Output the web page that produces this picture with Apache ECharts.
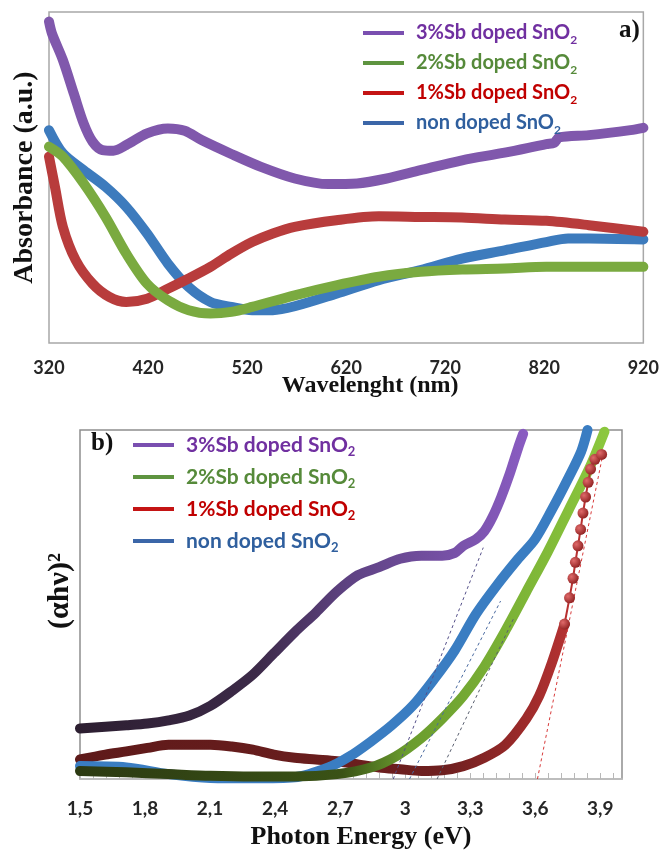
<!DOCTYPE html>
<html><head><meta charset="utf-8">
<script src="https://cdn.jsdelivr.net/npm/echarts@6/dist/echarts.min.js"></script>
<style>html,body{margin:0;padding:0;background:#fff}#c{width:662px;height:851px}</style>
</head><body><div id="c"></div>
<script>
// ---------- names / ticks ----------
const seriesNames = ['3%Sb doped SnO2', '2%Sb doped SnO2', '1%Sb doped SnO2', 'non doped SnO2'];
const xTicksA = [320, 420, 520, 620, 720, 820, 920];
const xTicksB = [1.5, 1.8, 2.1, 2.4, 2.7, 3.0, 3.3, 3.6, 3.9];
const xTickLabelsB = ['1,5', '1,8', '2,1', '2,4', '2,7', '3', '3,3', '3,6', '3,9'];

// ---------- panel a : absorbance vs wavelength (nm) ----------
const a3_nm  = [320, 323, 334, 345, 355, 364, 374, 385, 398, 419, 440, 457, 474, 504, 534, 568, 602, 631, 661, 695, 737, 780, 822, 830, 835, 865, 907, 920];
const a3_abs = [97.1, 93.5, 85.5, 75.4, 66.3, 60.8, 58.3, 58.1, 59.8, 63.3, 64.8, 64.1, 61.3, 57.1, 53.2, 49.7, 48.0, 48.2, 49.7, 52.2, 55.2, 57.5, 60.1, 60.5, 62.1, 62.8, 64.3, 65.0];
const a2_nm  = [320, 334, 355, 377, 398, 419, 440, 461, 483, 504, 525, 568, 610, 653, 695, 737, 780, 822, 920];
const a2_abs = [59.3, 56.3, 48.2, 38.1, 27.0, 17.9, 12.9, 9.9, 8.9, 9.4, 10.9, 14.4, 17.4, 20.0, 21.5, 22.2, 22.5, 23.0, 23.0];
const a1_nm  = [320, 326, 334, 347, 364, 381, 398, 419, 440, 461, 483, 504, 525, 546, 568, 610, 653, 695, 737, 780, 822, 865, 920];
const a1_abs = [56.3, 47.2, 35.1, 25.0, 17.9, 13.9, 12.4, 13.4, 16.4, 19.5, 23.0, 27.0, 30.5, 33.1, 35.1, 37.1, 38.3, 38.1, 37.9, 37.3, 36.9, 35.6, 33.6];
const a0_nm  = [320, 334, 355, 377, 398, 419, 440, 461, 483, 504, 525, 546, 568, 610, 653, 695, 737, 780, 822, 844, 865, 920];
const a0_abs = [64.3, 57.3, 52.2, 47.2, 41.1, 33.1, 24.0, 16.9, 12.4, 10.9, 9.9, 9.9, 11.1, 14.9, 19.0, 22.0, 25.5, 28.0, 30.5, 31.6, 31.6, 31.3];

// ---------- panel b : (alpha h nu)^2 vs photon energy (eV) ----------
const b3_eV  = [1.5, 1.617, 1.714, 1.811, 1.908, 2.005, 2.102, 2.2, 2.297, 2.394, 2.491, 2.588, 2.685, 2.782, 2.88, 2.977, 3.074, 3.171, 3.229, 3.268, 3.326, 3.365, 3.404, 3.443, 3.482, 3.521, 3.544];
const b3_val = [14.5, 15.0, 15.4, 15.9, 16.8, 18.2, 21.0, 25.2, 29.9, 36.0, 42.1, 47.7, 53.7, 58.4, 60.7, 63.1, 64.0, 64.0, 64.8, 66.8, 68.7, 71.0, 75.2, 80.8, 87.4, 94.9, 98.9];
const b2_eV  = [1.5, 1.714, 1.908, 2.102, 2.297, 2.491, 2.685, 2.841, 2.957, 3.074, 3.171, 3.268, 3.365, 3.462, 3.559, 3.657, 3.754, 3.851, 3.919];
const b2_val = [2.3, 1.9, 1.4, 0.9, 0.7, 0.7, 1.4, 3.3, 6.5, 11.7, 17.3, 23.8, 32.2, 42.5, 53.7, 65.0, 77.1, 89.3, 99.5];
const b1_eV  = [1.5, 1.617, 1.714, 1.811, 1.908, 2.005, 2.102, 2.2, 2.297, 2.394, 2.491, 2.588, 2.685, 2.782, 2.88, 2.977, 3.074, 3.171, 3.268, 3.365, 3.462, 3.559, 3.618, 3.676, 3.735];
const b1_val = [5.6, 7.0, 7.9, 8.9, 9.8, 9.8, 9.8, 9.3, 8.4, 7.0, 6.1, 5.6, 5.1, 4.2, 3.3, 2.8, 2.3, 2.5, 3.7, 6.1, 9.8, 17.3, 23.8, 33.2, 44.4];
const b1top_eV  = [3.735, 3.758, 3.774, 3.785, 3.797, 3.809, 3.820, 3.832, 3.844, 3.855, 3.875, 3.906];
const b1top_val = [44.4, 51.9, 57.5, 62.1, 66.8, 71.5, 76.2, 80.8, 85.0, 88.8, 91.6, 93.0];
const b0_eV  = [1.5, 1.714, 1.908, 2.102, 2.297, 2.491, 2.646, 2.744, 2.841, 2.938, 3.035, 3.132, 3.229, 3.326, 3.424, 3.521, 3.599, 3.676, 3.754, 3.812, 3.841];
const b0_val = [3.7, 3.3, 1.4, 0.3, 0.2, 0.5, 3.3, 6.5, 10.7, 15.4, 21.0, 28.5, 36.9, 47.2, 55.6, 63.1, 68.7, 77.1, 86.4, 93.9, 100];
// tangent (extrapolation) lines
const tan3_eV = [2.945, 3.36], tan3_val = [0, 66.3];
const tanQ_eV = [3.02, 3.44],  tanQ_val = [0, 51];
const tan0_eV = [3.147, 3.50], tan0_val = [0, 46];
const tan1_eV = [3.61, 3.91],  tan1_val = [0, 92.5];

const zip = (xs, ys) => xs.map((x, i) => [x, ys[i]]);

const legendTextColor = ['#7030a0', '#568a3a', '#c00000', '#2f5f9e'];
const legendLineColor = ['#7a4fb0', '#5e9440', '#c41414', '#3b66a8'];
const grad = (stops) => ({type: 'linear', x: 0, y: 0, x2: 1, y2: 0, colorStops: stops.map(s => ({offset: s[0], color: s[1]}))});

function legendCfg(left, top, size, gap) {
  return {
    orient: 'vertical', left: left, top: top, padding: 0, itemGap: gap,
    icon: 'rect', itemWidth: 41, itemHeight: 4,
    selectedMode: false,
    formatter: n => n.replace('SnO2', 'SnO{s|2}'),
    textStyle: {
      fontFamily: 'Lato', fontWeight: 'bold', fontSize: size, lineHeight: 26, padding: [0, 0, 0, 7],
      rich: {s: {fontFamily: 'Lato', fontWeight: 'bold', fontSize: Math.round(size * 0.62), lineHeight: 14, verticalAlign: 'bottom'}}
    },
    data: seriesNames.map((n, i) => ({name: n, textStyle: {color: legendTextColor[i]}, itemStyle: {color: legendLineColor[i]}}))
  };
}

const thick = (name, data, color, xi, w, z) => ({
  name: name, type: 'line', xAxisIndex: xi, yAxisIndex: xi, data: data,
  showSymbol: false, symbol: 'none', smooth: 0.3, clip: false, z: z || 2,
  lineStyle: {width: w || 10, color: color, cap: 'round', join: 'round'},
  itemStyle: {color: typeof color === 'string' ? color : color.colorStops[color.colorStops.length - 1].color},
  emphasis: {disabled: true}, animation: false
});
const dashed = (data, color) => ({
  type: 'line', xAxisIndex: 1, yAxisIndex: 1, data: data, showSymbol: false, symbol: 'none',
  silent: true, clip: false, z: 3, animation: false,
  lineStyle: {width: 1, color: color, type: [3, 3]}
});

const serifTitle = {fontFamily: 'Liberation Serif', fontWeight: 'bold', color: '#111'};

const option = {
  backgroundColor: '#ffffff',
  animation: false,
  title: [
    {text: 'a)', left: 619, top: 18, padding: 0, textStyle: Object.assign({fontSize: 25}, serifTitle)},
    {text: 'b)', left: 91, top: 431, padding: 0, textStyle: Object.assign({fontSize: 25}, serifTitle)}
  ],
  graphic: [
    {type: 'text', x: 60, y: 591, rotation: Math.PI / 2, silent: true,
     style: {text: '(αhν)²', font: 'bold 30px "Liberation Serif"', fill: '#111', align: 'center', verticalAlign: 'middle'}}
  ],
  legend: [legendCfg(363, 20, 20, 4), legendCfg(133, 432, 21, 6)],
  grid: [
    {left: 49, width: 598, top: 12, height: 331, show: true, borderColor: '#a8a8a8', borderWidth: 1.5, backgroundColor: '#fff'},
    {left: 80, width: 542, top: 430, height: 354, show: true, borderColor: '#8e8e8e', borderWidth: 1.5, backgroundColor: '#fff'}
  ],
  xAxis: [
    {type: 'value', gridIndex: 0, min: 320, max: 920,
     axisLine: {show: false}, axisTick: {show: false}, splitLine: {show: false},
     axisLabel: {customValues: xTicksA, margin: 16, fontFamily: 'Lato', fontWeight: 'bold', fontSize: 18, color: '#262626'},
     name: 'Wavelenght (nm)', nameLocation: 'middle', nameGap: 31, nameMoveOverlap: false,
     nameTextStyle: Object.assign({fontSize: 24, padding: [0, 0, 0, 48]}, serifTitle)},
    {type: 'value', gridIndex: 1, min: 1.5, max: 4.0,
     axisLine: {show: true, lineStyle: {color: '#c4c4c4', width: 1.5}},
     axisTick: {show: true, inside: true, length: 6, customValues: (function(){const t=[]; for (let k=0;k<=41;k++) t.push(+(xTicksB[0]+k*0.06).toFixed(2)); return t;})(), lineStyle: {color: '#b8b8b8'}},
     splitLine: {show: false},
     axisLabel: {customValues: xTicksB, margin: 20, fontFamily: 'Lato', fontWeight: 'bold', fontSize: 19, color: '#262626',
       formatter: v => { const i = xTicksB.findIndex(t => Math.abs(t - v) < 1e-6); return i >= 0 ? xTickLabelsB[i] : ''; }},
     name: 'Photon Energy (eV)', nameLocation: 'middle', nameGap: 45, nameMoveOverlap: false,
     nameTextStyle: Object.assign({fontSize: 26, padding: [0, 0, 0, 20]}, serifTitle)}
  ],
  yAxis: [
    {type: 'value', gridIndex: 0, min: 0, max: 100, axisLine: {show: false}, axisTick: {show: false}, axisLabel: {show: false}, splitLine: {show: false},
     name: 'Absorbance (a.u.)', nameLocation: 'middle', nameGap: 10, nameRotate: 90, nameMoveOverlap: false,
     nameTextStyle: Object.assign({fontSize: 28}, serifTitle)},
    {type: 'value', gridIndex: 1, min: 0, max: 100, axisLine: {show: false}, axisTick: {show: false}, axisLabel: {show: false}, splitLine: {show: false}}
  ],
  series: [
    // panel a
    thick(seriesNames[3], zip(a0_nm, a0_abs), '#3d7bbd', 0),
    thick(seriesNames[2], zip(a1_nm, a1_abs), '#b83c3c', 0),
    thick(seriesNames[1], zip(a2_nm, a2_abs), '#7aaa40', 0),
    thick(seriesNames[0], zip(a3_nm, a3_abs), '#8058ac', 0),
    // panel b
    thick(seriesNames[2], zip(b1_eV, b1_val), grad([[0, '#5e1a1a'], [0.75, '#6e1f1f'], [0.9, '#9a2a2a'], [1, '#b53232']]), 1),
    thick(seriesNames[3], zip(b0_eV, b0_val), '#3a7dc2', 1),
    thick(seriesNames[2], zip(b1top_eV, b1top_val), '#b83030', 1, 2, 4),
    thick(seriesNames[1], zip(b2_eV, b2_val), grad([[0, '#2c3a12'], [0.5, '#3a5216'], [0.62, '#6a9c2e'], [1, '#8cc83e']]), 1),
    thick(seriesNames[0], zip(b3_eV, b3_val), grad([[0, '#2c1e30'], [0.4, '#3c2a48'], [0.6, '#5e4282'], [1, '#8a5cc2']]), 1),
    dashed(zip(tan3_eV, tan3_val), '#55508a'),
    dashed(zip(tanQ_eV, tanQ_val), '#4a6aa0'),
    dashed(zip(tan0_eV, tan0_val), '#5a6070'),
    dashed(zip(tan1_eV, tan1_val), '#d83a3a')
  ]
};
// beads on the steep part of the 1% curve in panel b
option.series[6].showSymbol = true;
option.series[6].symbol = 'circle';
option.series[6].symbolSize = 11;
option.series[6].smooth = false;
option.series[6].itemStyle = {color: {type: 'radial', x: 0.35, y: 0.35, r: 0.75, colorStops: [{offset: 0, color: '#e06a6a'}, {offset: 1, color: '#8a1c1c'}]}};

const chart = echarts.init(document.getElementById('c'), null, {renderer: 'canvas', width: 662, height: 851});
chart.setOption(option);
</script></body></html>
